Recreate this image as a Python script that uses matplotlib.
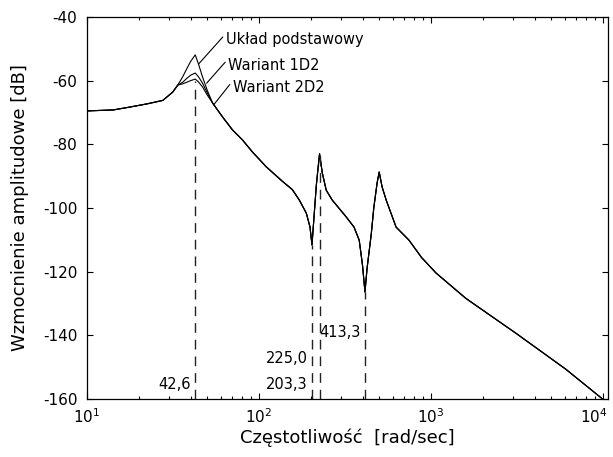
import numpy as np
import matplotlib
matplotlib.use("Agg")
import matplotlib.pyplot as plt
from matplotlib.transforms import ScaledTranslation

# common low-frequency part (all three variants overlap)
freq_low = [10.0, 14.2, 17.7, 22.3, 27.6, 31.5]
db_low = [-69.5, -69.2, -68.3, -67.3, -66.2, -63.6]

# first resonance, where the three variants differ
freq_peak = [33.7, 36.0, 38.0, 40.0, 42.6, 44.5, 47.0, 50.0, 53.7]
db_base = [-61.4, -58.8, -56.3, -54.0, -51.9, -54.8, -58.9, -63.0, -67.0]
db_1d2 = [-61.4, -60.5, -59.3, -58.3, -57.6, -58.8, -60.8, -63.8, -67.0]
db_2d2 = [-61.4, -61.0, -60.5, -60.0, -59.5, -60.4, -62.0, -64.5, -67.0]

# common high-frequency part
freq_high = [61.4, 70.2, 80.1, 91.6, 110.4, 136.7, 156.2, 171.6, 188.4, 198.0,
             203.3, 215.4, 220.0, 225.0, 233.5, 246.0, 266.6, 321.4, 357.0,
             382.6, 400.0, 413.3, 425.0, 450.0, 465.0, 486.0, 500.0, 520.0,
             549.0, 627.0, 745.0, 880.0, 1069.0, 1596.0, 3111.0, 6067.0, 9795.0,
             10300.0]
db_high = [-71.4, -75.5, -78.6, -82.4, -87.1, -91.6, -94.2, -97.5, -101.6, -106.0,
           -111.6, -93.0, -88.0, -83.0, -89.0, -94.4, -97.5, -102.8, -106.0,
           -110.1, -118.0, -126.4, -119.0, -108.0, -100.0, -92.2, -88.7, -93.4,
           -97.5, -106.0, -110.1, -115.5, -120.4, -128.4, -139.3, -150.6, -159.7,
           -160.6]

# characteristic frequencies marked with dashed lines
mark_freq = [42.6, 203.3, 225.0, 413.3]
mark_db = [-60.0, -111.6, -83.0, -126.4]
mark_text = ["42,6", "203,3", "225,0", "413,3"]
mark_text_x = [42.6, 203.3, 203.3, 413.3]
mark_text_y = [-155.6, -155.6, -147.4, -139.0]

names = ["Układ podstawowy", "Wariant 1D2", "Wariant 2D2"]
name_xy = [(44.5, -54.8), (49.6, -60.8), (54.5, -67.6)]
name_text_xy = [(63.9, -47.2), (66.0, -55.1), (70.2, -62.0)]

plt.rcParams["axes.unicode_minus"] = False
plt.rcParams["font.family"] = ["DejaVu Sans"]

fig = plt.figure(figsize=(6.13, 4.57), dpi=100)
ax = fig.add_axes([87 / 613, 58 / 457, 521 / 613, 382 / 457])

for db_peak in (db_base, db_1d2, db_2d2):
    f = np.concatenate([freq_low, freq_peak, freq_high])
    d = np.concatenate([db_low, db_peak, db_high])
    ax.plot(f, d, color="black", lw=0.8)

for fr, top in zip(mark_freq, mark_db):
    ax.plot([fr, fr], [-160, top], color="#222222", lw=1.0, dashes=(7, 5))

for txt, tx, ty in zip(mark_text, mark_text_x, mark_text_y):
    ax.annotate(txt, xy=(tx, ty), xytext=(-3, 0), textcoords="offset points",
                ha="right", va="center", fontsize=10.5)

for name, xy, txy in zip(names, name_xy, name_text_xy):
    ax.annotate(name, xy=xy, xytext=txy, ha="left", va="center", fontsize=10.5,
                arrowprops=dict(arrowstyle="-", lw=0.8, color="black",
                                relpos=(0, 0.9), shrinkA=0, shrinkB=0))

ax.set_xscale("log")
ax.set_xlim(10, 1.07e4)
ax.set_xticks([10, 100, 1000, 10000])
ax.set_ylim(-160, -40)
ax.set_yticks(np.arange(-160, -39, 20))
ax.tick_params(which="both", direction="in", top=True, right=True, labelsize=11)
ax.tick_params(which="major", length=4, width=0.8)
ax.tick_params(which="minor", length=2, width=0.8)
ax.tick_params(axis="y", pad=7)
ax.tick_params(axis="x", pad=6)
for sp in ax.spines.values():
    sp.set_linewidth(0.9)

ax.set_xlabel("Częstotliwość  [rad/sec]", fontsize=13, labelpad=2)
ax.set_ylabel("Wzmocnienie amplitudowe [dB]", fontsize=13, labelpad=10)

# keep the last decade label inside the figure, like the original
last = ax.xaxis.get_major_ticks()[-1].label1
last.set_transform(last.get_transform() + ScaledTranslation(-0.09, 0, fig.dpi_scale_trans))

fig.savefig("out.png", dpi=100)
